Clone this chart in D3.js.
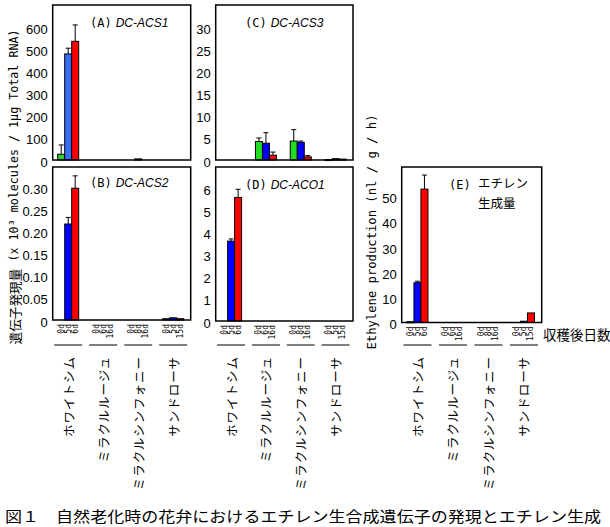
<!DOCTYPE html>
<html><head><meta charset="utf-8">
<script src="https://cdn.jsdelivr.net/npm/d3@7/dist/d3.min.js"></script>
<style>body{margin:0;background:#fff}svg{display:block}</style>
</head><body><svg id="c" width="610" height="527"></svg>
<script>
// ---------- data ----------
const groups = ["ホワイトシム", "ミラクルルージュ", "ミラクルシンフォニー", "サンドローサ"];
const dayLabels = [["0d","5d","6d"], ["0d","6d","16d"], ["0d","8d","16d"], ["0d","5d","15d"]];

const acs1Values = [[26,479,536],[0,0,0],[0,5,0],[0,0,0]];
const acs1Err    = [[42,26,74],[0,0,0],[0,0,0],[0,0,0]];
const acs1Ticks  = [0,100,200,300,400,500,600];

const acs3Values = [[0,0,0],[4.2,3.8,1.1],[4.3,4.0,0.7],[0.1,0.3,0.2]];
const acs3Err    = [[0,0,0],[0.8,2.4,0.7],[2.6,0.3,0.3],[0,0,0]];
const acs3Ticks  = [0,5,10,15,20,25,30];

const acs2Values = [[0,0.217,0.298],[0,0,0],[0,0,0],[0.003,0.005,0.003]];
const acs2Err    = [[0,0.015,0.028],[0,0,0],[0,0,0],[0,0,0]];
const acs2Ticks  = [0,0.05,0.10,0.15,0.20,0.25,0.30];

const aco1Values = [[0,3.62,5.6],[0,0,0],[0,0,0],[0,0,0]];
const aco1Err    = [[0,0.1,0.37],[0,0,0],[0,0,0],[0,0,0]];
const aco1Ticks  = [0,1,2,3,4,5,6];

const ethValues  = [[0.3,15.8,53],[0,0,0],[0,0,0],[0,0.5,3.8]];
const ethErr     = [[0,0.6,5.6],[0,0,0],[0,0,0],[0,0,0]];
const ethTicks   = [0,10,20,30,40,50];

// ---------- drawing ----------
const svg = d3.select("#c");
const colorsA = ["#33cc33","#3a6cf5","#ff0000"];
const colors  = ["#22dd22","#0000ff","#ff0000"];
const numFont = "'Liberation Sans', Arial, sans-serif";
const jpFont  = "'Noto Sans CJK JP', sans-serif";
const monoFont = "'DejaVu Sans Mono', 'Liberation Mono', monospace";

function panel(cfg) {
  const g = svg.append("g");
  const x = d3.scaleBand().domain(d3.range(groups.length)).range([cfg.x0 - 2, cfg.x1]);
  const xi = d3.scaleBand().domain([0,1,2]).range([-10.5, 10.5]);
  const y = d3.scaleLinear().domain([0, cfg.max]).range([cfg.y1, cfg.y0]);
  const cx = i => x(i) + x.bandwidth() / 2;

  g.selectAll("text.yt").data(cfg.ticks).join("text")
    .attr("x", cfg.x0 - 5).attr("y", d => y(d) + 2)
    .attr("text-anchor", "end").attr("dominant-baseline", "central")
    .attr("font-family", numFont).attr("font-size", 13)
    .text(cfg.fmt);

  const flat = [];
  cfg.values.forEach((row, gi) => row.forEach((v, si) => flat.push({gi, si, v, e: cfg.errs[gi][si]})));
  const eb = flat.filter(d => d.e > 0);
  g.selectAll("line.eb").data(eb).join("line")
    .attr("x1", d => cx(d.gi) + xi(d.si) + xi.bandwidth() / 2)
    .attr("x2", d => cx(d.gi) + xi(d.si) + xi.bandwidth() / 2)
    .attr("y1", d => y(d.v)).attr("y2", d => y(d.v + d.e))
    .attr("stroke", "#000").attr("stroke-width", 1);
  g.selectAll("line.ec").data(eb).join("line")
    .attr("x1", d => cx(d.gi) + xi(d.si) + xi.bandwidth() / 2 - 2.5)
    .attr("x2", d => cx(d.gi) + xi(d.si) + xi.bandwidth() / 2 + 2.5)
    .attr("y1", d => y(d.v + d.e)).attr("y2", d => y(d.v + d.e))
    .attr("stroke", "#000").attr("stroke-width", 1);
  g.selectAll("rect.bar").data(flat.filter(d => d.v > 0)).join("rect")
    .attr("x", d => cx(d.gi) + xi(d.si)).attr("width", xi.bandwidth())
    .attr("y", d => y(d.v)).attr("height", d => Math.max(1, y(0) - y(d.v)))
    .attr("fill", d => cfg.colors[d.si]).attr("stroke", "#000").attr("stroke-width", 1);

  g.append("rect").attr("x", cfg.x0).attr("y", cfg.y0)
    .attr("width", cfg.x1 - cfg.x0).attr("height", cfg.y1 - cfg.y0)
    .attr("fill", "none").attr("stroke", "#000").attr("stroke-width", 1.5);

  const t = g.append("text").attr("x", cfg.lx).attr("y", cfg.ly)
    .attr("font-family", monoFont).attr("font-size", 12);
  t.append("tspan").text(cfg.label[0]);
  if (cfg.label[1]) {
    t.append("tspan").attr("font-style", "italic").attr("font-family", numFont).attr("dx", 4).text(cfg.label[1]);
  }

  if (cfg.bottom) {
    const dl = [];
    dayLabels.forEach((row, gi) => row.forEach((s, si) => dl.push({gi, si, s})));
    g.selectAll("text.dl").data(dl).join("text")
      .attr("transform", d => `translate(${cx(d.gi) + xi(d.si) + xi.bandwidth()/2},${cfg.y1 + 4}) rotate(-90)`)
      .attr("text-anchor", "end").attr("dominant-baseline", "central")
      .attr("font-family", monoFont).attr("font-size", 8).text(d => d.s);
    g.selectAll("line.gl").data(groups).join("line")
      .attr("x1", (d, i) => cx(i) - 14).attr("x2", (d, i) => cx(i) + 14)
      .attr("y1", 345).attr("y2", 345).attr("stroke", "#000").attr("stroke-width", 1);
    g.selectAll("text.cv").data(groups).join("text")
      .attr("transform", (d, i) => `translate(${cx(i)},356) rotate(-90)`)
      .attr("text-anchor", "end").attr("dominant-baseline", "central")
      .attr("font-family", jpFont).attr("font-size", 12.5).attr("letter-spacing", 1)
      .text(d => d);
  }
  return {x, y, g};
}

const fmtInt = d => d3.format("d")(d);
const fmt2 = d => d === 0 ? "0" : d3.format(".2f")(d);

panel({x0: 52.7, x1: 190.7, y0: 5, y1: 160, max: 700, ticks: acs1Ticks, fmt: fmtInt,
  values: acs1Values, errs: acs1Err, colors: colorsA, label: ["(A)", "DC-ACS1"], lx: 90, ly: 27});
panel({x0: 215.7, x1: 353, y0: 5, y1: 160, max: 35.2, ticks: acs3Ticks, fmt: fmtInt,
  values: acs3Values, errs: acs3Err, colors: colors, label: ["(C)", "DC-ACS3"], lx: 245, ly: 27});
panel({x0: 52.7, x1: 190.7, y0: 167, y1: 320, max: 0.346, ticks: acs2Ticks, fmt: fmt2,
  values: acs2Values, errs: acs2Err, colors: colors, label: ["(B)", "DC-ACS2"], lx: 90, ly: 187, bottom: true});
panel({x0: 215.7, x1: 353, y0: 167, y1: 321, max: 6.98, ticks: aco1Ticks, fmt: fmtInt,
  values: aco1Values, errs: aco1Err, colors: colors, label: ["(D)", "DC-ACO1"], lx: 245, ly: 189, bottom: true});
const pe = panel({x0: 401.7, x1: 541.7, y0: 167, y1: 322.5, max: 61.8, ticks: ethTicks, fmt: fmtInt,
  values: ethValues, errs: ethErr, colors: colors, label: ["(E)", ""], lx: 449, ly: 189, bottom: true});
pe.g.append("text").attr("x", 478).attr("y", 188).attr("font-family", jpFont).attr("font-size", 12.5).text("エチレン");
pe.g.append("text").attr("x", 478).attr("y", 208).attr("font-family", jpFont).attr("font-size", 12.5).text("生成量");

// axis titles
const lt = svg.append("text").attr("transform", "translate(14,187) rotate(-90)")
  .attr("text-anchor", "middle").attr("dominant-baseline", "central")
  .attr("textLength", 315).attr("lengthAdjust", "spacingAndGlyphs");
lt.append("tspan").attr("font-family", jpFont).attr("font-size", 13).text("遺伝子発現量");
lt.append("tspan").attr("font-family", monoFont).attr("font-size", 12).text(" (x 10³ molecules / 1μg Total RNA)");

svg.append("text").attr("transform", "translate(372,232) rotate(-90)")
  .attr("text-anchor", "middle").attr("dominant-baseline", "central")
  .attr("font-family", monoFont).attr("font-size", 12)
  .attr("textLength", 235).attr("lengthAdjust", "spacingAndGlyphs")
  .text("Ethylene production (nl / g / h)");

svg.append("text").attr("x", 543).attr("y", 340).attr("font-family", jpFont).attr("font-size", 13.5)
  .text("収穫後日数");

svg.append("text").attr("x", 5).attr("y", 522).attr("font-family", jpFont).attr("font-size", 15)
  .attr("textLength", 596).attr("lengthAdjust", "spacingAndGlyphs")
  .text("図１　自然老化時の花弁におけるエチレン生合成遺伝子の発現とエチレン生成");
</script></body></html>
